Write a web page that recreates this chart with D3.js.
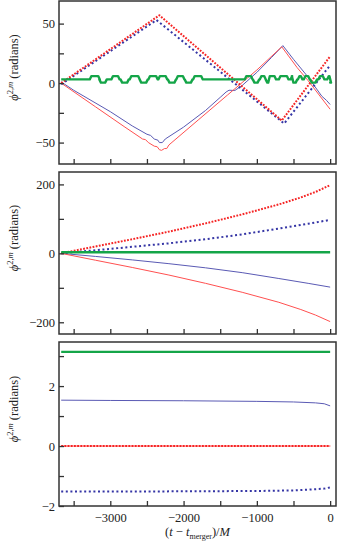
<!DOCTYPE html>
<html>
<head>
<meta charset="utf-8">
<script src="https://cdn.jsdelivr.net/npm/d3@7"></script>
<style>
  body { margin: 0; background: #fff; }
  svg { display: block; font-family: "Liberation Serif", "DejaVu Serif", serif; }
</style>
</head>
<body>
<svg id="chart" width="338" height="544"></svg>
<script>
// x-Achse: (t - t_merger)/M
const xTicks = [-3500, -3000, -2500, -2000, -1500, -1000, -500, 0];
const xLabels = [-3000, -2000, -1000, 0];

// Panel 1 (oben)
const redDot1 = [[-3670, 0], [-2330, 57], [-660, -31.5], [0, 22.5]];
const blueDot1 = [[-3670, -1], [-2370, 53], [-627, -34], [0, 15]];
const redSolid1 = [[-3670, 0], [-3200, -20], [-2800, -37], [-2560, -47], [-2520, -47.5], [-2480, -50],
  [-2400, -53], [-2360, -53.5], [-2330, -56], [-2300, -56.5], [-2260, -55], [-2230, -55], [-2200, -52],
  [-1800, -31], [-1400, -10], [-1000, 11], [-660, 30.5], [-450, 13], [-300, 2], [-150, -10], [0, -22]];
const blueSolid1 = [[-3670, 1], [-3500, -6], [-3000, -24], [-2700, -36], [-2500, -43], [-2450, -44],
  [-2400, -47], [-2350, -48], [-2330, -50], [-2290, -50], [-2250, -47], [-2000, -37], [-1700, -23],
  [-1500, -12], [-1420, -7.5], [-1380, -6], [-1300, -6.2], [-1200, -2], [-1000, 9], [-800, 21.5],
  [-645, 31.5], [-500, 20], [-300, 5], [-114, -11], [-50, -14.5], [0, -18]];
// gruene Linie: Stufen (Zeit, Wert)
const greenT1 = [-3670, -3280, -3165, -3150, -3070, -2985, -2895, -2860, -2770, -2735, -2620, -2600,
  -2510, -2480, -2375, -2345, -2245, -2215, -2125, -2100, -2010, -1985, -1900, -1870, -1760,
  -1165, -1080, -1055, -990, -960, -900, -880, -845, -760, -700, -590, -540, -523, -470, -440,
  -400, -360, -300, -273, -200, -160, -100, -40, -10, 0];
const greenV1 = [3.1, 5.9, 3.1, 0.4, 3.1, 5.9, 3.1, 0.4, 3.1, 5.9, 3.1, 0.4,
  3.1, 5.9, 3.1, 5.9, 3.1, 0.4, 3.1, 5.9, 3.1, 0.4, 3.1, 5.9, 3.1,
  5.9, 3.1, 0.4, 3.1, 5.9, 3.1, 0.4, 5.9, 3.1, 5.9, 3.1, 5.9, 0.4, 3.1, 5.9,
  3.1, 5.9, 3.1, 0.4, 3.1, 5.9, 3.1, 5.9, 0.4, 0.4];

// Panel 2 (Mitte)
const redDot2 = [[-3670, 0], [-3200, 20], [-2700, 41], [-2200, 63], [-1700, 87], [-1200, 113],
  [-700, 142], [-400, 162], [-200, 178], [0, 198]];
const blueDot2 = [[-3670, 0], [-3200, 9], [-2700, 19], [-2200, 29], [-1700, 41], [-1200, 55],
  [-700, 72], [-300, 86], [0, 97]];
const redSolid2 = [[-3670, 0], [-3200, -20], [-2700, -41], [-2200, -63], [-1700, -87], [-1200, -113],
  [-700, -142], [-400, -163], [-200, -179], [0, -198]];
const blueSolid2 = [[-3670, 0], [-3200, -9], [-2700, -19], [-2200, -30], [-1700, -42], [-1200, -56],
  [-700, -73], [-300, -87], [0, -98]];
const green2 = [[-3670, 3.14], [0, 3.14]];

// Panel 3 (unten)
const redDot3 = [[-3670, 0], [0, 0]];
const redSolid3 = [[-3670, 0], [0, 0]];
const blueSolid3 = [[-3670, 1.53], [-3000, 1.52], [-2000, 1.51], [-1000, 1.49], [-500, 1.47],
  [-200, 1.44], [-80, 1.41], [0, 1.34]];
const blueDot3 = [[-3670, -1.52], [-3000, -1.52], [-2000, -1.51], [-1000, -1.5], [-500, -1.48],
  [-200, -1.44], [-80, -1.42], [0, -1.38]];
const green3 = [[-3670, 3.1416], [0, 3.1416]];

// y-Ticks
const yTicks1 = [-50, -25, 0, 25, 50], yLabels1 = [-50, 0, 50];
const yTicks2 = [-200, -100, 0, 100, 200], yLabels2 = [-200, 0, 200];
const yTicks3 = [-2, -1, 0, 1, 2, 3], yLabels3 = [-2, 0, 2];

// Stufen mit kurzen Rampen statt senkrechter Kanten
const green1 = [];
greenT1.forEach((t, i) => {
  if (i > 0) green1.push([t, greenV1[i - 1]]);
  green1.push([i > 0 ? t + 22 : t, greenV1[i]]);
});

const panels = [
  { top: 1, bottom: 164, domain: [-68, 69], ticks: yTicks1, labels: yLabels1,
    lines: { blueSolid: blueSolid1, redSolid: redSolid1, blueDot: blueDot1, redDot: redDot1, green: green1 } },
  { top: 172, bottom: 334, domain: [-234, 236], ticks: yTicks2, labels: yLabels2,
    lines: { blueSolid: blueSolid2, redSolid: redSolid2, blueDot: blueDot2, redDot: redDot2, green: green2 } },
  { top: 342, bottom: 506, domain: [-2, 3.47], ticks: yTicks3, labels: yLabels3,
    lines: { green: green3, blueSolid: blueSolid3, redSolid: redSolid3, blueDot: blueDot3, redDot: redDot3 } },
];

const styles = {
  green: { stroke: "#14a548", width: 2.4, dash: null },
  blueSolid: { stroke: "#5a5ab4", width: 1, dash: null },
  redSolid: { stroke: "#ff5050", width: 1, dash: null },
  blueDot: { stroke: "#3535a5", width: 2, dash: "2,2.6" },
  redDot: { stroke: "#f52525", width: 2, dash: "1.8,1.4" },
};

const left = 59, right = 336;
const fmt = (d) => (d < 0 ? "\u2212" + -d : String(d));

const svg = d3.select("#chart");
const x = d3.scaleLinear().domain([-3700, 80]).range([left, right]);

panels.forEach((p, i) => {
  const y = d3.scaleLinear().domain(p.domain).range([p.bottom, p.top]);
  const g = svg.append("g");

  // Linien
  Object.entries(p.lines).forEach(([key, data]) => {
    const st = styles[key];
    const line = d3.line()
      .x((d) => x(d[0]))
      .y((d) => y(d[1]));
    g.append("path")
      .datum(data)
      .attr("fill", "none")
      .attr("stroke", st.stroke)
      .attr("stroke-width", st.width)
      .attr("stroke-dasharray", st.dash)
      .attr("stroke-linejoin", "round")
      .attr("d", line);
  });

  // Achsen mit Ticks nach innen
  const isLast = i === panels.length - 1;
  const yAxis = d3.axisLeft(y).tickValues(p.ticks).tickSize(-5).tickPadding(4)
    .tickFormat((d) => (p.labels.includes(d) ? fmt(d) : ""));
  const xAxis = d3.axisBottom(x).tickValues(xTicks).tickSize(-5).tickPadding(7)
    .tickFormat((d) => (isLast && xLabels.includes(d) ? fmt(d) : ""));

  const ya = g.append("g").attr("transform", `translate(${left},0)`).call(yAxis);
  const xa = g.append("g").attr("transform", `translate(0,${p.bottom})`).call(xAxis);
  [ya, xa].forEach((a) => {
    a.select(".domain").remove();
    a.selectAll("line").attr("stroke", "#333").attr("stroke-width", 1.3);
    a.selectAll("text").attr("fill", "#222").style("font-size", "12.5px")
      .style("font-family", "'Liberation Serif', serif");
  });

  // Rahmen
  g.append("rect")
    .attr("x", left).attr("y", p.top)
    .attr("width", right - left).attr("height", p.bottom - p.top)
    .attr("fill", "none").attr("stroke", "#333").attr("stroke-width", 1.5);

  // y-Beschriftung
  const cy = (p.top + p.bottom) / 2 - 15;
  const lab = svg.append("text")
    .attr("transform", `translate(17.5,${cy}) rotate(-90)`)
    .attr("text-anchor", "middle")
    .style("font-size", "12.5px")
    .attr("fill", "#222");
  lab.append("tspan").style("font-style", "italic").text("\u03d5");
  lab.append("tspan").attr("dy", -5).style("font-size", "8.5px").text("2,");
  lab.append("tspan").style("font-size", "8.5px").style("font-style", "italic").text("m");
  lab.append("tspan").attr("dy", 5).text(" (radians)");
});

// x-Beschriftung
const xl = svg.append("text")
  .attr("x", (left + right) / 2)
  .attr("y", 536)
  .attr("text-anchor", "middle")
  .style("font-size", "12.5px")
  .attr("fill", "#222");
xl.append("tspan").text("(");
xl.append("tspan").style("font-style", "italic").text("t");
xl.append("tspan").text(" \u2212 ");
xl.append("tspan").style("font-style", "italic").text("t");
xl.append("tspan").attr("dy", 3).style("font-size", "8px").text("merger");
xl.append("tspan").attr("dy", -3).text(")/");
xl.append("tspan").style("font-style", "italic").text("M");
</script>
</body>
</html>
